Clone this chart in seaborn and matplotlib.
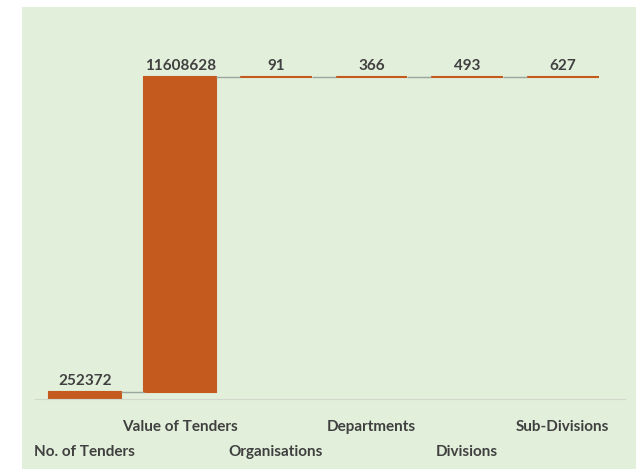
import numpy as np
import pandas as pd
import matplotlib
matplotlib.use("Agg")
import matplotlib.pyplot as plt
import seaborn as sns
from matplotlib.patches import Rectangle

###-------DATA------###
categories = ["No. of Tenders", "Value of Tenders", "Organisations", "Departments", "Divisions", "Sub-Divisions"]
values = [252372, 11608628, 91, 366, 493, 627]

# waterfall: each bar starts where the previous one ended
df = pd.DataFrame({"cat": categories, "val": values})
df["bottom"] = df["val"].cumsum() - df["val"]
df["top"] = df["val"].cumsum()

bar_color = "#c55a1f"
bg_color = "#e2efda"
text_color = "#404040"

sns.set_style("white")
plt.rcParams["font.family"] = ["Lato", "DejaVu Sans"]

fig = plt.figure(figsize=(6.43, 4.69), dpi=100)
fig.patch.set_facecolor("white")
# green panel behind the chart
fig.patches.append(Rectangle((22 / 643, 0), (636 - 22) / 643, (469 - 7) / 469,
                             transform=fig.transFigure, facecolor=bg_color,
                             edgecolor="none", zorder=-10))

ax = fig.add_axes([35 / 643, (469 - 399) / 469, 590 / 643, 370 / 469])
ax.set_facecolor("none")

sns.barplot(data=df, x="cat", y="val", bottom=df["bottom"].values, color=bar_color,
            width=0.75, saturation=1, edgecolor=bar_color, linewidth=1.5, ax=ax)

# connector lines between bars
w = 0.75
for i in range(len(df) - 1):
    ax.hlines(df["top"].iloc[i], i + w / 2, i + 1 - w / 2, color="#9aa5a0", lw=1, zorder=1)

ax.bar_label(ax.containers[0], labels=[str(v) for v in values], padding=3,
             fontsize=11, fontweight="bold", color=text_color)

ax.set_xlim(-0.52, 5.65)
ax.set_ylim(0, df["top"].iloc[-1] * 1.15)
ax.set_yticks([])
ax.set_xlabel("")
ax.set_ylabel("")
for s in ["top", "right", "left"]:
    ax.spines[s].set_visible(False)
ax.spines["bottom"].set_color("#d0d8cc")

ax.set_xticks(range(len(categories)))
ax.set_xticklabels(categories, fontsize=11, fontweight="bold", color=text_color)
ax.tick_params(axis="x", length=0)
for i, t in enumerate(ax.xaxis.get_major_ticks()):
    t.set_pad(15 if i % 2 == 1 else 33)

fig.savefig("out.png", dpi=100)
